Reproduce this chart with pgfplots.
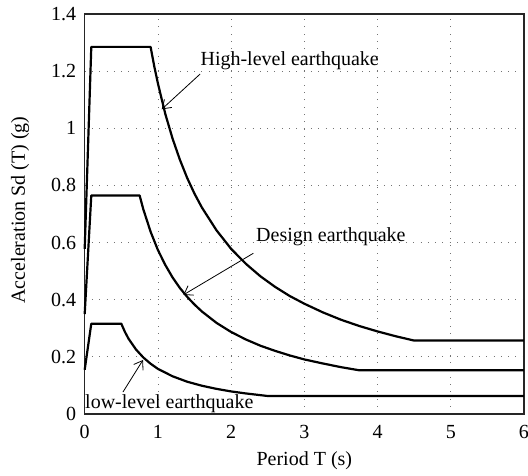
\documentclass[border=0pt]{standalone}
\usepackage{fontspec}
\setmainfont{Liberation Serif}
\usepackage{pgfplots}
\pgfplotsset{compat=1.18}
\usetikzlibrary{arrows.meta}

\begin{document}
\begin{tikzpicture}
\path[use as bounding box] (-84.7pt,-61pt) rectangle (443.3pt,414pt);
\begin{axis}[
  at={(0,0)}, anchor=south west,
  scale only axis,
  width=439.3pt, height=400pt,
  xmin=0, xmax=6, ymin=0, ymax=1.4,
  xtick={0,1,2,3,4,5,6},
  ytick={0,0.2,0.4,0.6,0.8,1,1.2,1.4},
  /pgf/number format/assume math mode=true,
  font=\fontsize{20}{24}\selectfont,
  tick label style={font=\fontsize{20}{24}\selectfont},
  label style={font=\fontsize{20}{24}\selectfont},
  major tick length=0pt,
  xticklabel shift=8pt,
  yticklabel shift=5pt,
  grid=major,
  major grid style={draw=black!55, line width=0.8pt, dash pattern=on 0.8pt off 6.5pt},
  axis line style={draw=black!85, line width=1.3pt},
  xlabel={Period T (s)},
  ylabel={Acceleration Sd (T) (g)},
  xlabel style={at={(axis description cs:0.5,-0.1275)}, anchor=base},
  ylabel style={at={(axis description cs:-0.136,0.51)}, anchor=base, rotate=0},
  clip=false,
]
% High-level earthquake
\addplot[black, line width=2.2pt, line join=round] coordinates {
 (0,0.578) (0.09,1.285) (0.9,1.285) (0.95,1.217) (1.0,1.157) (1.1,1.051) (1.2,0.964)
 (1.3,0.890) (1.4,0.826) (1.5,0.771) (1.6,0.723) (1.8,0.643) (2.0,0.578)
 (2.2,0.526) (2.4,0.482) (2.6,0.445) (2.8,0.413) (3.0,0.386) (3.25,0.356)
 (3.5,0.330) (3.75,0.308) (4.0,0.289) (4.25,0.272) (4.5,0.257) (6,0.257)
};
% Design earthquake
\addplot[black, line width=2.2pt, line join=round] coordinates {
 (0,0.35) (0.09,0.765) (0.75,0.765) (0.8,0.717) (0.9,0.638) (1.0,0.574)
 (1.1,0.522) (1.2,0.478) (1.3,0.441) (1.4,0.410) (1.5,0.383) (1.6,0.359)
 (1.8,0.319) (2.0,0.287) (2.2,0.261) (2.4,0.239) (2.6,0.221) (2.8,0.205)
 (3.0,0.191) (3.25,0.177) (3.5,0.164) (3.75,0.153) (6,0.153)
};
% Low-level earthquake
\addplot[black, line width=2.2pt, line join=round] coordinates {
 (0,0.155) (0.09,0.316) (0.5,0.316) (0.55,0.287) (0.6,0.263) (0.7,0.226)
 (0.8,0.198) (0.9,0.176) (1.0,0.158) (1.2,0.132) (1.4,0.113) (1.6,0.099)
 (1.8,0.088) (2.0,0.079) (2.2,0.072) (2.5,0.063) (6,0.063)
};
% annotations
\node[anchor=base west, inner sep=0pt, font=\fontsize{20}{24}\selectfont] at (axis cs:1.580,1.2215) {High-level earthquake};
\node[anchor=base west, inner sep=0pt, font=\fontsize{20}{24}\selectfont] at (axis cs:2.340,0.603) {Design earthquake};
\node[anchor=base west, inner sep=0pt, font=\fontsize{20}{24}\selectfont] at (axis cs:0.004,0.021) {low-level earthquake};
\draw[line width=0.8pt, -{Straight Barb[length=8pt,width=11pt]}] (axis cs:1.577,1.190) -- (axis cs:1.052,1.0665);
\draw[line width=0.8pt, -{Straight Barb[length=8pt,width=11pt]}] (axis cs:2.303,0.5625) -- (axis cs:1.348,0.417);
\draw[line width=0.8pt, -{Straight Barb[length=8pt,width=11pt]}] (axis cs:0.523,0.077) -- (axis cs:0.796,0.189);
\end{axis}
\end{tikzpicture}
\end{document}
